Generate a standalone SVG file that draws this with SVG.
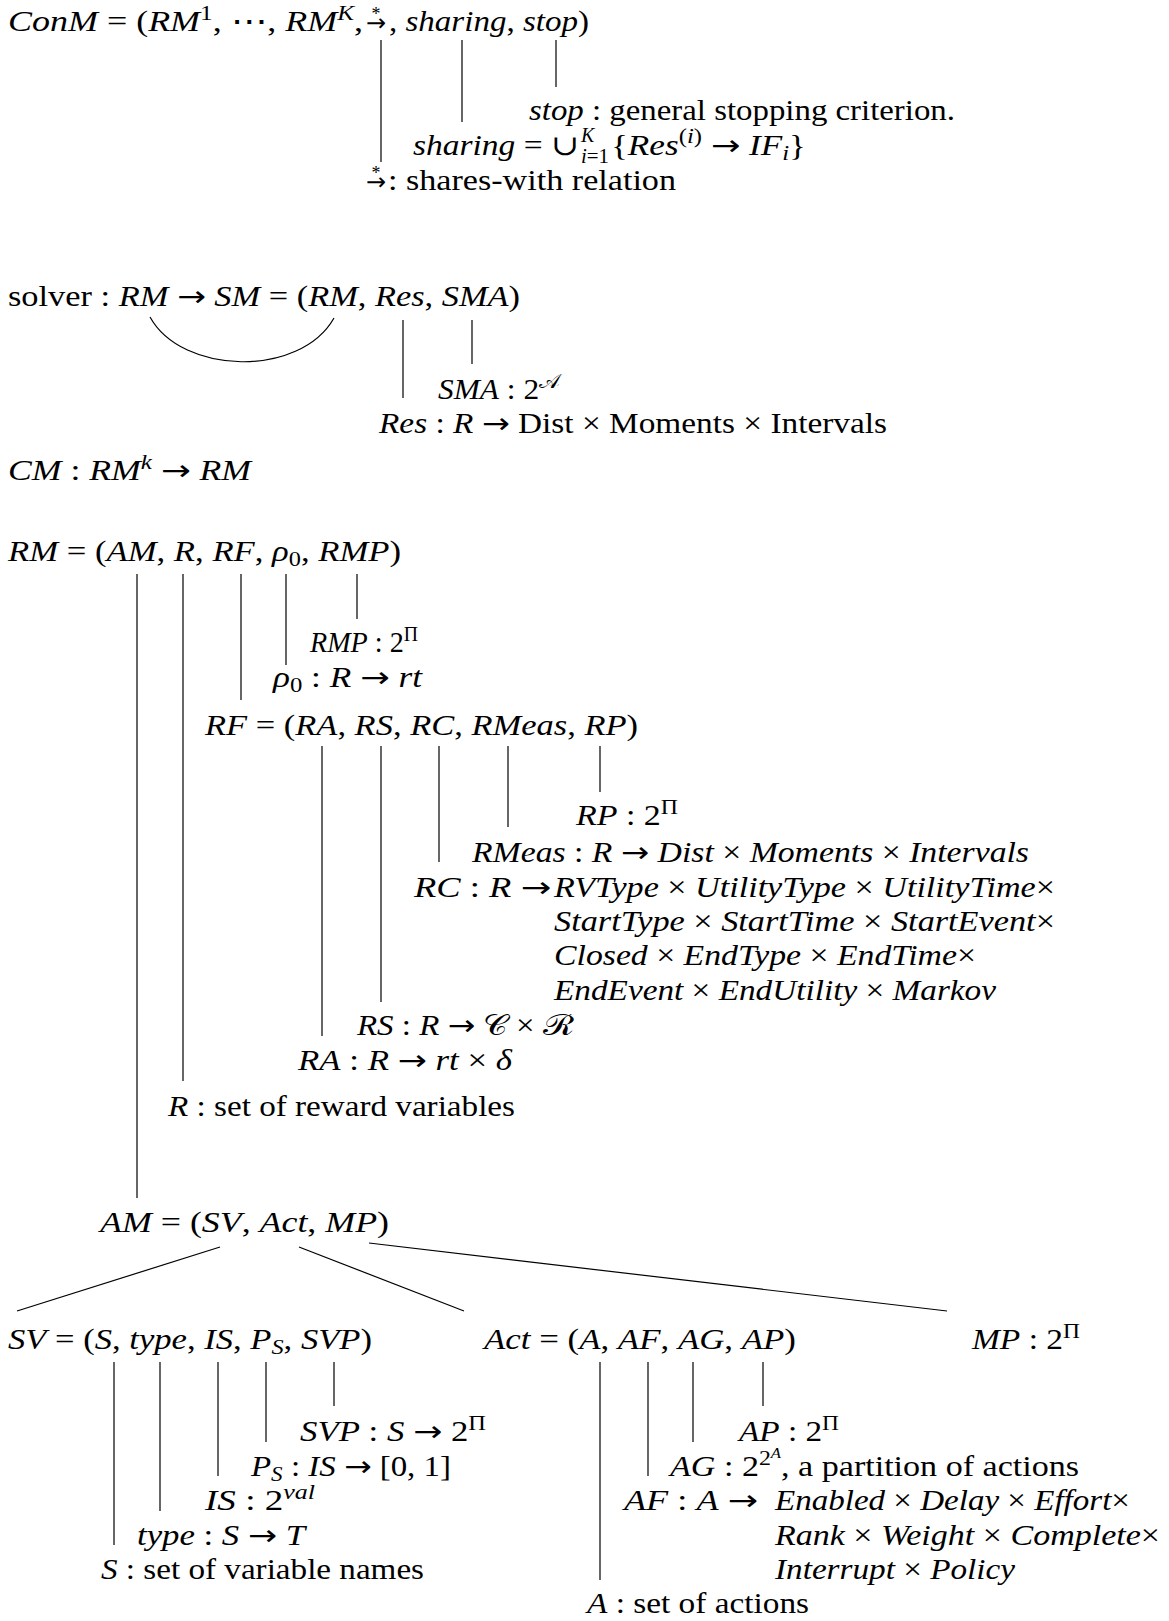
<svg xmlns="http://www.w3.org/2000/svg" width="1169" height="1621" viewBox="0 0 1169 1621">
<style>
.t{font-family:"Liberation Serif","DejaVu Serif",serif;font-size:28.5px;fill:#000}
.i{font-style:italic}
.ar{font-family:"DejaVu Sans",sans-serif;font-style:normal}
.sup{font-size:20px}
.sup2{font-size:14px}
.conn line,.conn path{stroke:#000;stroke-width:1.2;fill:none}
</style>
<rect width="1169" height="1621" fill="#fff"/>
<g id="connectors" class="conn">
<line x1="381" y1="40" x2="381" y2="162"/>
<line x1="462" y1="40" x2="462" y2="122"/>
<line x1="556" y1="40" x2="556" y2="87"/>
<path d="M150,317 C182,375 300,378 334,318"/>
<line x1="403" y1="320" x2="403" y2="398"/>
<line x1="472" y1="320" x2="472" y2="364"/>
<line x1="137" y1="574" x2="137" y2="1198"/>
<line x1="183" y1="574" x2="183" y2="1081"/>
<line x1="241" y1="574" x2="241" y2="700"/>
<line x1="286" y1="574" x2="286" y2="665"/>
<line x1="357" y1="574" x2="357" y2="619"/>
<line x1="322" y1="746" x2="322" y2="1036"/>
<line x1="381" y1="746" x2="381" y2="1002"/>
<line x1="439" y1="746" x2="439" y2="862"/>
<line x1="508" y1="746" x2="508" y2="827"/>
<line x1="600" y1="746" x2="600" y2="792"/>
<line x1="220" y1="1247" x2="17" y2="1311"/>
<line x1="299" y1="1247" x2="464" y2="1311"/>
<line x1="369" y1="1243" x2="947" y2="1311"/>
<line x1="114" y1="1362" x2="114" y2="1545"/>
<line x1="160" y1="1362" x2="160" y2="1511"/>
<line x1="218" y1="1362" x2="218" y2="1476"/>
<line x1="266" y1="1362" x2="266" y2="1442"/>
<line x1="334" y1="1362" x2="334" y2="1406"/>
<line x1="600" y1="1362" x2="600" y2="1580"/>
<line x1="648" y1="1362" x2="648" y2="1476"/>
<line x1="693" y1="1362" x2="693" y2="1442"/>
<line x1="763" y1="1362" x2="763" y2="1406"/>
</g>
<g id="conm">
<text class="t" x="8" y="31" textLength="355" lengthAdjust="spacingAndGlyphs"><tspan class="i">ConM</tspan> = (<tspan class="i">RM</tspan><tspan class="sup" dy="-11">1</tspan><tspan dy="11">, ⋯, </tspan><tspan class="i">RM</tspan><tspan class="sup i" dy="-11">K</tspan><tspan dy="11">,</tspan></text>
<text class="t" x="366" y="31"><tspan class="ar" style="font-size:24px">→</tspan><tspan dx="-14.5" dy="-11" style="font-size:18px">*</tspan></text>
<text class="t" x="389" y="31" textLength="200" lengthAdjust="spacingAndGlyphs">, <tspan class="i">sharing</tspan>, <tspan class="i">stop</tspan>)</text>
</g>
<g id="stop">
<text class="t" x="529" y="120" textLength="426" lengthAdjust="spacingAndGlyphs"><tspan class="i">stop</tspan> : general stopping criterion.</text>
</g>
<g id="sharing">
<text class="t" x="413" y="155" textLength="166" lengthAdjust="spacingAndGlyphs"><tspan class="i">sharing</tspan> = ∪</text>
<text class="t sup i" x="581" y="142" style="font-size:20px">K</text>
<text class="t sup" x="581" y="163" textLength="28" lengthAdjust="spacingAndGlyphs" style="font-size:20px"><tspan class="i">i</tspan>=1</text>
<text class="t" x="611" y="155" textLength="195" lengthAdjust="spacingAndGlyphs">{<tspan class="i">Res</tspan><tspan class="sup" dy="-12">(<tspan class="i">i</tspan>)</tspan><tspan dy="12"> </tspan><tspan class="ar">→</tspan> <tspan class="i">IF</tspan><tspan class="sup i" dy="5">i</tspan><tspan dy="-5">}</tspan></text>
</g>
<g id="shares">
<text class="t" x="366" y="190"><tspan class="ar" style="font-size:24px">→</tspan><tspan dx="-14.5" dy="-11" style="font-size:18px">*</tspan></text>
<text class="t" x="388" y="190" textLength="288" lengthAdjust="spacingAndGlyphs">: shares-with relation</text>
</g>
<g id="solver">
<text class="t" x="8" y="306" textLength="512" lengthAdjust="spacingAndGlyphs">solver : <tspan class="i">RM</tspan> <tspan class="ar">→</tspan> <tspan class="i">SM</tspan> = (<tspan class="i">RM</tspan>, <tspan class="i">Res</tspan>, <tspan class="i">SMA</tspan>)</text>
</g>
<g id="sma">
<text class="t" x="438" y="399" textLength="122" lengthAdjust="spacingAndGlyphs"><tspan class="i">SMA</tspan> : 2<tspan class="sup" dy="-11">𝒜</tspan></text>
</g>
<g id="res">
<text class="t" x="379" y="433" textLength="508" lengthAdjust="spacingAndGlyphs"><tspan class="i">Res</tspan> : <tspan class="i">R</tspan> <tspan class="ar">→</tspan> Dist × Moments × Intervals</text>
</g>
<g id="cm">
<text class="t" x="8" y="480" textLength="243" lengthAdjust="spacingAndGlyphs"><tspan class="i">CM</tspan> : <tspan class="i">RM</tspan><tspan class="sup i" dy="-11">k</tspan><tspan dy="11"> </tspan><tspan class="ar">→</tspan> <tspan class="i">RM</tspan></text>
</g>
<g id="rm">
<text class="t" x="8" y="561" textLength="393" lengthAdjust="spacingAndGlyphs"><tspan class="i">RM</tspan> = (<tspan class="i">AM</tspan>, <tspan class="i">R</tspan>, <tspan class="i">RF</tspan>, <tspan class="i">ρ</tspan><tspan class="sup" dy="5">0</tspan><tspan dy="-5">, </tspan><tspan class="i">RMP</tspan>)</text>
</g>
<g id="rmp">
<text class="t" x="310" y="652" textLength="108" lengthAdjust="spacingAndGlyphs"><tspan class="i">RMP</tspan> : 2<tspan class="sup" dy="-11">Π</tspan></text>
</g>
<g id="rho0">
<text class="t" x="273" y="687" textLength="149" lengthAdjust="spacingAndGlyphs"><tspan class="i">ρ</tspan><tspan class="sup" dy="5">0</tspan><tspan dy="-5"> : </tspan><tspan class="i">R</tspan> <tspan class="ar">→</tspan> <tspan class="i">rt</tspan></text>
</g>
<g id="rf">
<text class="t" x="205" y="735" textLength="433" lengthAdjust="spacingAndGlyphs"><tspan class="i">RF</tspan> = (<tspan class="i">RA</tspan>, <tspan class="i">RS</tspan>, <tspan class="i">RC</tspan>, <tspan class="i">RMeas</tspan>, <tspan class="i">RP</tspan>)</text>
</g>
<g id="rp">
<text class="t" x="576" y="825" textLength="102" lengthAdjust="spacingAndGlyphs"><tspan class="i">RP</tspan> : 2<tspan class="sup" dy="-11">Π</tspan></text>
</g>
<g id="rmeas">
<text class="t" x="472" y="862" textLength="557" lengthAdjust="spacingAndGlyphs"><tspan class="i">RMeas</tspan> : <tspan class="i">R</tspan> <tspan class="ar">→</tspan> <tspan class="i">Dist</tspan> × <tspan class="i">Moments</tspan> × <tspan class="i">Intervals</tspan></text>
</g>
<g id="rc">
<text class="t" x="414" y="897" textLength="137" lengthAdjust="spacingAndGlyphs"><tspan class="i">RC</tspan> : <tspan class="i">R</tspan> <tspan class="ar">→</tspan></text>
<text class="t i" x="554" y="897" textLength="501" lengthAdjust="spacingAndGlyphs">RVType <tspan font-style="normal">×</tspan> UtilityType <tspan font-style="normal">×</tspan> UtilityTime<tspan font-style="normal">×</tspan></text>
<text class="t i" x="554" y="931" textLength="501" lengthAdjust="spacingAndGlyphs">StartType <tspan font-style="normal">×</tspan> StartTime <tspan font-style="normal">×</tspan> StartEvent<tspan font-style="normal">×</tspan></text>
<text class="t i" x="554" y="965" textLength="422" lengthAdjust="spacingAndGlyphs">Closed <tspan font-style="normal">×</tspan> EndType <tspan font-style="normal">×</tspan> EndTime<tspan font-style="normal">×</tspan></text>
<text class="t i" x="554" y="1000" textLength="442" lengthAdjust="spacingAndGlyphs">EndEvent <tspan font-style="normal">×</tspan> EndUtility <tspan font-style="normal">×</tspan> Markov</text>
</g>
<g id="rs">
<text class="t" x="357" y="1035" textLength="217" lengthAdjust="spacingAndGlyphs"><tspan class="i">RS</tspan> : <tspan class="i">R</tspan> <tspan class="ar">→</tspan> 𝒞 × ℛ</text>
</g>
<g id="ra">
<text class="t" x="298" y="1070" textLength="214" lengthAdjust="spacingAndGlyphs"><tspan class="i">RA</tspan> : <tspan class="i">R</tspan> <tspan class="ar">→</tspan> <tspan class="i">rt</tspan> × <tspan class="i">δ</tspan></text>
</g>
<g id="r">
<text class="t" x="168" y="1116" textLength="347" lengthAdjust="spacingAndGlyphs"><tspan class="i">R</tspan> : set of reward variables</text>
</g>
<g id="am">
<text class="t" x="100" y="1232" textLength="289" lengthAdjust="spacingAndGlyphs"><tspan class="i">AM</tspan> = (<tspan class="i">SV</tspan>, <tspan class="i">Act</tspan>, <tspan class="i">MP</tspan>)</text>
</g>
<g id="sv">
<text class="t" x="8" y="1349" textLength="364" lengthAdjust="spacingAndGlyphs"><tspan class="i">SV</tspan> = (<tspan class="i">S</tspan>, <tspan class="i">type</tspan>, <tspan class="i">IS</tspan>, <tspan class="i">P</tspan><tspan class="sup i" dy="5">S</tspan><tspan dy="-5">, </tspan><tspan class="i">SVP</tspan>)</text>
</g>
<g id="act">
<text class="t" x="484" y="1349" textLength="312" lengthAdjust="spacingAndGlyphs"><tspan class="i">Act</tspan> = (<tspan class="i">A</tspan>, <tspan class="i">AF</tspan>, <tspan class="i">AG</tspan>, <tspan class="i">AP</tspan>)</text>
</g>
<g id="mp">
<text class="t" x="972" y="1349" textLength="108" lengthAdjust="spacingAndGlyphs"><tspan class="i">MP</tspan> : 2<tspan class="sup" dy="-11">Π</tspan></text>
</g>
<g id="svp">
<text class="t" x="300" y="1441" textLength="186" lengthAdjust="spacingAndGlyphs"><tspan class="i">SVP</tspan> : <tspan class="i">S</tspan> <tspan class="ar">→</tspan> 2<tspan class="sup" dy="-11">Π</tspan></text>
</g>
<g id="ps">
<text class="t" x="251" y="1476" textLength="200" lengthAdjust="spacingAndGlyphs"><tspan class="i">P</tspan><tspan class="sup i" dy="5">S</tspan><tspan dy="-5"> : </tspan><tspan class="i">IS</tspan> <tspan class="ar">→</tspan> [0, 1]</text>
</g>
<g id="is">
<text class="t" x="205" y="1510" textLength="110" lengthAdjust="spacingAndGlyphs"><tspan class="i">IS</tspan> : 2<tspan class="sup i" dy="-11">val</tspan></text>
</g>
<g id="type">
<text class="t" x="137" y="1545" textLength="168" lengthAdjust="spacingAndGlyphs"><tspan class="i">type</tspan> : <tspan class="i">S</tspan> <tspan class="ar">→</tspan> <tspan class="i">T</tspan></text>
</g>
<g id="s">
<text class="t" x="101" y="1579" textLength="323" lengthAdjust="spacingAndGlyphs"><tspan class="i">S</tspan> : set of variable names</text>
</g>
<g id="ap">
<text class="t" x="739" y="1441" textLength="100" lengthAdjust="spacingAndGlyphs"><tspan class="i">AP</tspan> : 2<tspan class="sup" dy="-11">Π</tspan></text>
</g>
<g id="ag">
<text class="t" x="670" y="1476" textLength="409" lengthAdjust="spacingAndGlyphs"><tspan class="i">AG</tspan> : 2<tspan class="sup" dy="-11">2</tspan><tspan class="sup2 i" dy="-7">A</tspan><tspan dy="18">, a partition of actions</tspan></text>
</g>
<g id="af">
<text class="t" x="624" y="1510" textLength="134" lengthAdjust="spacingAndGlyphs"><tspan class="i">AF</tspan> : <tspan class="i">A</tspan> <tspan class="ar">→</tspan></text>
<text class="t i" x="775" y="1510" textLength="355" lengthAdjust="spacingAndGlyphs">Enabled <tspan font-style="normal">×</tspan> Delay <tspan font-style="normal">×</tspan> Effort<tspan font-style="normal">×</tspan></text>
<text class="t i" x="775" y="1545" textLength="385" lengthAdjust="spacingAndGlyphs">Rank <tspan font-style="normal">×</tspan> Weight <tspan font-style="normal">×</tspan> Complete<tspan font-style="normal">×</tspan></text>
<text class="t i" x="775" y="1579" textLength="240" lengthAdjust="spacingAndGlyphs">Interrupt <tspan font-style="normal">×</tspan> Policy</text>
</g>
<g id="a">
<text class="t" x="587" y="1613" textLength="222" lengthAdjust="spacingAndGlyphs"><tspan class="i">A</tspan> : set of actions</text>
</g>
</svg>
